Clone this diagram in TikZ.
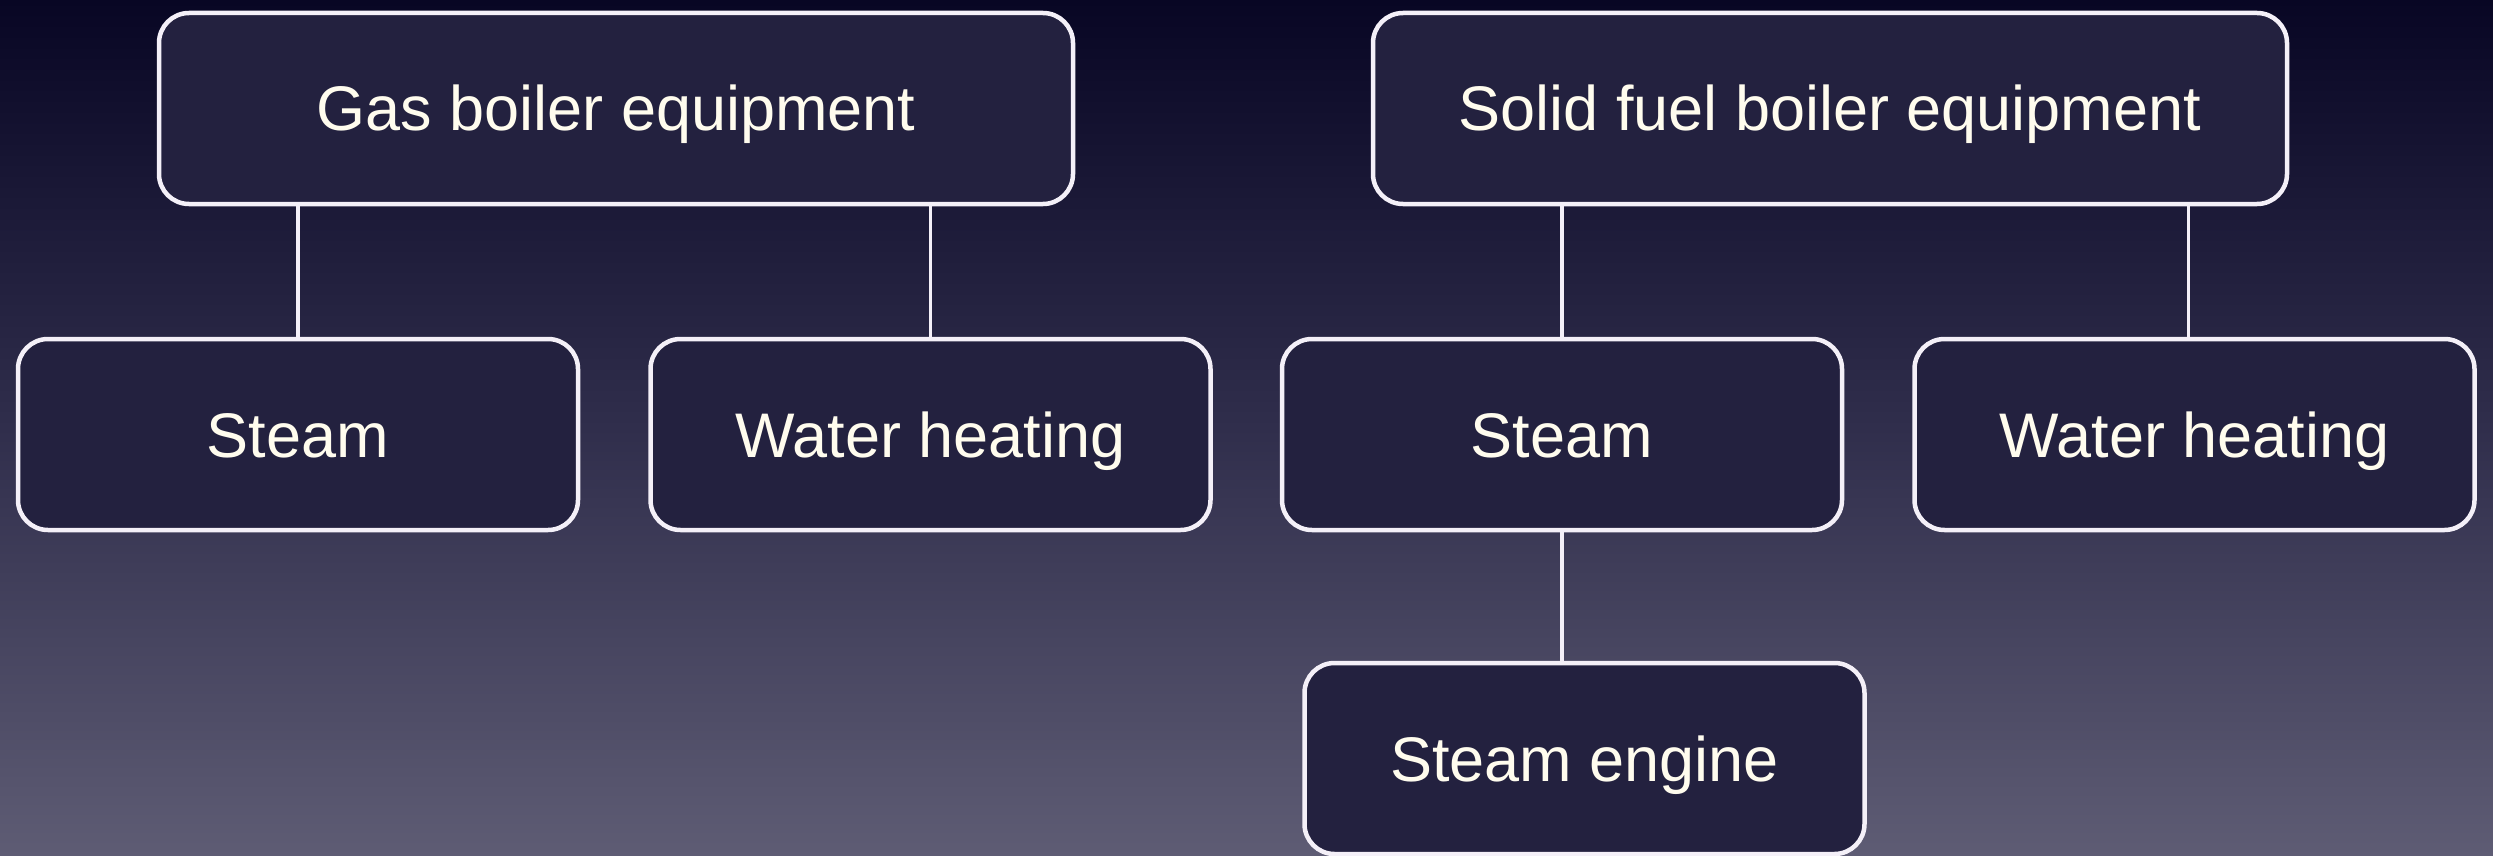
\documentclass[tikz,border=0pt]{standalone}
\usepackage{fontspec}
\setmainfont{Liberation Sans}
\definecolor{bgtop}{HTML}{080624}
\definecolor{bgmid}{HTML}{302E4C}
\definecolor{bgbot}{HTML}{5E5C74}
\definecolor{boxfill}{HTML}{23213F}
\definecolor{boxline}{HTML}{F4F0F8}
\definecolor{txt}{HTML}{FFFCEE}
\begin{document}
\begin{tikzpicture}[x=1pt,y=-1pt,
  box/.style={draw=boxline, line width=4.5pt, fill=boxfill, rounded corners=30pt,
    minimum height=191pt, inner sep=0pt, text=txt,
    text height=45pt, text depth=0pt,
    font=\fontsize{63}{75}\selectfont},
  wide/.style={box, minimum width=914pt},
  narrow/.style={box, minimum width=560pt},
  link/.style={draw=boxline, line width=3.5pt}]
\shade[top color=bgtop, bottom color=bgbot, middle color=bgmid, shading angle=0]
  (0,0) rectangle (2493,856);
\useasboundingbox (0,0) rectangle (2493,856);
\node[wide]   (gas)    at (616,108.5)  {Gas boiler equipment};
\node[wide]   (solid)  at (1830,108.5) {Solid fuel boiler equipment};
\node[narrow] (steamA) at (298,434.5)  {Steam};
\node[narrow] (waterA) at (930.5,434.5) {Water heating};
\node[narrow] (steamB) at (1562,434.5) {Steam};
\node[narrow] (waterB) at (2194.5,434.5) {Water heating};
\node[narrow] (engine) at (1584.5,758.5) {Steam engine};
\draw[link] (steamA.north) -- (steamA.north |- gas.south);
\draw[link] (waterA.north) -- (waterA.north |- gas.south);
\draw[link] (steamB.north) -- (steamB.north |- solid.south);
\draw[link] ([xshift=-6pt]waterB.north) -- ([xshift=-6pt]waterB.north |- solid.south);
\draw[link] (steamB.south) -- (steamB.south |- engine.north);
\end{tikzpicture}
\end{document}
